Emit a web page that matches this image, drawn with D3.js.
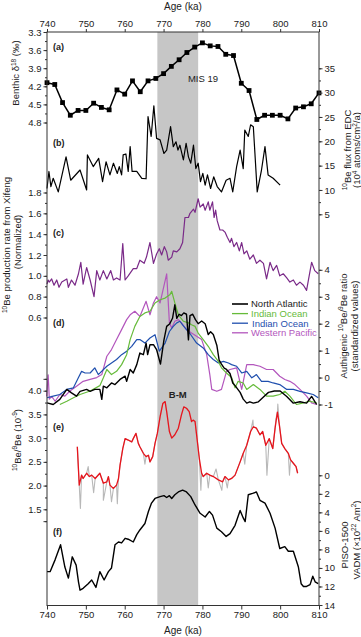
<!DOCTYPE html>
<html>
<head>
<meta charset="utf-8">
<script src="https://cdn.jsdelivr.net/npm/d3@7"></script>
<style>
  body { margin: 0; background: #fff; }
  text { font-family: "Liberation Sans", Arial, sans-serif; fill: #222; }
</style>
</head>
<body>
<div id="chart"></div>
<script>
/* DATA */
const ageTicks = [740, 750, 760, 770, 780, 790, 800, 810];
const mis19Band = [768.4, 778.9];

// (a) benthic d18O
const benthicAge = [740, 742, 744, 746, 748, 750, 752, 754, 756, 758, 760, 762, 764, 766, 768, 770, 772, 774,
  776, 778, 780, 782, 784, 786, 788, 790, 792, 794, 796, 798, 800, 802, 804, 806, 808, 810];
const benthicD18O = [4.14, 4.17, 4.47, 4.68, 4.60, 4.60, 4.48, 4.55, 4.59, 4.26, 4.33, 4.11, 4.29, 4.11, 4.07, 3.99, 3.87, 3.76,
  3.64, 3.55, 3.48, 3.53, 3.54, 3.67, 3.69, 4.15, 4.27, 4.75, 4.68, 4.68, 4.68, 4.74, 4.56, 4.54, 4.49, 4.31];
const benthicTicks = [3.3, 3.6, 3.9, 4.2, 4.5, 4.8];

// (b) 10Be flux EDC
const edcAge = [740, 740.5, 741.0, 741.6, 742.9, 744.9, 746.1, 748.5, 750.2, 750.4, 751.9, 753.3, 754.3, 755.2, 756.2, 757.1,
  758.1, 758.6, 759.2, 759.6, 760.3, 760.9, 761.4, 761.9, 763.1, 764.4, 765.5, 766.0, 766.8, 767.5, 768.2, 769.1, 770.1,
  770.8, 771.8, 772.5, 773.2, 773.7, 774.2, 775.1, 775.8, 776.4, 777.0, 777.7, 778.3, 778.9, 779.5, 780.1, 780.7, 781.3,
  782.1, 782.9, 783.8, 784.9, 786.1, 787.1, 787.8, 788.8, 789.7, 790.5, 790.9, 791.8, 792.4, 793.1, 794.1, 795.2, 796.1,
  796.9, 798.2, 800.0];
const edcFlux = [10.3, 13.8, 10.7, 12.4, 9.6, 16.8, 12.0, 14.1, 10.0, 17.2, 14.8, 16.5, 11.7, 15.8, 13.1, 15.5,
  13.4, 14.8, 13.1, 17.2, 17.4, 13.8, 18.9, 13.8, 13.8, 12.4, 12.3, 25.1, 21.0, 27.3, 20.6, 20.3, 17.5,
  18.2, 23.0, 18.9, 19.9, 18.2, 19.2, 16.2, 19.6, 16.8, 15.5, 19.2, 14.4, 15.5, 11.7, 13.4, 11.0, 13.1,
  10.3, 12.7, 10.7, 9.6, 12.0, 12.4, 9.6, 14.8, 18.2, 14.4, 22.3, 21.0, 23.4, 23.0, 9.6, 14.1, 18.9,
  13.1, 12.4, 11.0];
const fluxTicks = [5, 10, 15, 20, 25, 30, 35];

// (c) Xifeng 10Be production rate
const xifengAge = [740.0, 740.3, 740.6, 741.2, 741.8, 742.5, 743.1, 743.8, 745.1, 745.5,
  746.3, 747.2, 748.1, 748.7, 749.3, 750.2, 751.1, 752.1, 752.8, 753.6,
  754.5, 755.4, 756.4, 757.1, 757.9, 758.8, 759.5, 760.1, 760.9, 762.2,
  763.1, 763.9, 765.0, 765.6, 766.5, 767.4, 768.2, 768.9, 769.5, 770.2,
  770.8, 771.2, 772.1, 772.5, 773.4, 774.2, 774.9, 775.5, 776.4, 776.8,
  777.7, 778.1, 778.9, 779.4, 780.2, 780.7, 781.5, 781.9, 782.6, 783.0,
  783.4, 783.8, 784.5, 785.2, 785.8, 786.4, 787.1, 787.5, 788.1, 788.8,
  789.5, 790.1, 790.7, 791.4, 792.2, 793.1, 793.9, 794.8, 795.7, 796.5,
  797.4, 798.2, 799.1, 799.9, 800.8, 801.7, 802.5, 803.4, 804.2, 805.1,
  806.0, 806.8, 808.1, 808.9, 809.8];
const xifengRate = [0.92, 0.96, 0.94, 0.97, 0.91, 0.96, 0.89, 0.94, 0.97, 0.89,
  0.96, 0.91, 1.02, 1.13, 0.92, 1.08, 0.96, 0.80, 1.05, 0.96,
  1.05, 0.97, 1.05, 0.96, 0.98, 0.96, 1.31, 0.96, 1.00, 1.07,
  1.07, 1.15, 1.12, 1.18, 1.32, 1.12, 1.21, 1.26, 1.20, 1.28,
  1.23, 1.15, 1.18, 1.24, 1.23, 1.26, 1.32, 1.56, 1.56, 1.60,
  1.64, 1.61, 1.74, 1.66, 1.69, 1.63, 1.71, 1.63, 1.71, 1.56,
  1.63, 1.53, 1.44, 1.44, 1.42, 1.37, 1.32, 1.36, 1.28, 1.32,
  1.24, 1.32, 1.21, 1.24, 1.16, 1.20, 1.12, 1.15, 1.12, 0.97,
  1.13, 1.05, 1.10, 1.00, 1.02, 0.98, 0.94, 0.96, 0.91, 0.94,
  0.91, 0.86, 1.13, 1.05, 1.02];
const xifengTicks = [0.6, 0.8, 1.0, 1.2, 1.4, 1.6, 1.8];

// (d) authigenic 10Be/9Be, standardized
const naAge = [740.0, 741.6, 743.3, 745.1, 746.3, 747.6, 748.5, 750.2, 751.1, 752.3, 753.6, 754.1, 754.5, 755.4,
  756.6, 757.5, 758.8, 760.1, 760.5, 761.4, 762.2, 763.1, 763.9, 764.8, 765.5, 765.9, 766.5, 767.4, 768.2,
  769.2, 770.1, 770.8, 771.6, 772.3, 772.9, 773.4, 774.0, 774.6, 775.2, 775.9, 776.4, 776.8, 777.5, 778.2,
  778.9, 779.8, 780.7, 781.5, 782.1, 782.8, 783.7, 784.3, 784.9, 785.6, 786.2, 787.1, 787.8, 788.4, 789.7,
  790.5, 791.4, 792.2, 793.1, 794.4, 795.5, 797.0, 798.5, 800.0, 801.7, 803.4, 805.1, 806.8, 808.1, 809.4];
const naVal = [-0.94, -1.0, -0.81, -0.44, -0.57, -0.69, -0.51, -0.44, -0.51, -0.44, -0.44, -0.81, -0.32, -0.38,
  -0.20, -0.26, -0.07, 0.05, -0.14, 0.30, 0.17, 0.48, 0.91, 0.85, 1.28, 0.85, 1.22, 1.22, 1.04,
  0.50, 1.40, 1.90, 2.00, 2.20, 2.70, 2.20, 2.35, 2.30, 2.40, 2.35, 1.40, 2.30, 2.35, 2.15,
  2.00, 2.10, 2.00, 1.60, 1.70, 1.60, 1.20, 0.65, 0.50, 0.35, 0.30, 0.15, -0.20, -0.30, -0.55,
  -0.80, -0.95, -0.90, -0.95, -0.90, -0.75, -0.55, -0.50, -0.50, -0.70, -0.95, -0.90, -0.95, -0.70, -1.00];

const ioGreenAge = [743.3, 745.1, 746.8, 748.5, 751.1, 753.6, 754.5, 755.4, 756.6, 757.9, 759.2, 760.5, 761.4, 762.6,
  763.9, 765.2, 766.5, 767.8, 769.1, 770.4, 771.6, 772.1, 772.9, 773.8, 775.1, 776.4, 777.2, 778.1, 778.9,
  780.2, 781.5, 782.8, 784.1, 784.9, 786.2, 787.5, 788.4, 789.2, 790.5, 791.4, 793.1, 794.8, 796.5, 798.2,
  799.9, 801.2, 802.5, 804.2, 806.0, 807.7, 809.4];
const ioGreenVal = [-1.0, -0.88, -0.75, -0.63, -0.50, -0.30, -0.01, 0.30, 0.11, 0.23, 0.48, 0.85, 1.41, 1.90,
  2.27, 2.40, 2.46, 2.77, 2.89, 2.95, 3.07, 3.20, 2.77, 2.33, 2.09, 2.03, 1.96, 1.90, 1.65,
  1.41, 1.16, 0.85, 0.60, 0.36, 0.17, 0.0, -0.38, -0.14, -0.20, -0.44, -0.26, -0.44, -0.69, -0.69,
  -0.63, -0.51, -0.69, -1.0, -0.94, -0.88, -0.94];

const ioBlueAge = [740.0, 741.6, 743.3, 745.1, 746.8, 748.1, 748.9, 749.8, 751.1, 752.3, 753.2, 755.4, 756.6, 757.9,
  759.2, 760.5, 761.8, 763.1, 763.9, 765.2, 766.5, 767.8, 768.9, 770.4, 771.5, 772.5, 773.4, 774.2, 774.9,
  775.9, 777.0, 778.5, 780.2, 781.5, 782.8, 784.1, 785.4, 786.7, 787.5, 788.8, 790.1, 791.4, 792.7, 793.9,
  795.2, 796.9, 798.2, 799.9, 801.7, 803.4, 805.1, 806.8, 808.5, 809.8];
const ioBlueVal = [-0.75, -0.69, -0.63, -0.44, -0.38, 0.0, 0.23, 0.17, 0.17, 0.36, 0.11, 0.42, 0.54, 0.67,
  0.85, 0.98, 1.16, 1.41, 1.41, 1.28, 1.47, 1.59, 0.98, 1.28, 1.71, 1.90, 2.03, 2.09, 1.96,
  1.78, 1.59, 1.28, 1.10, 0.85, 0.67, 0.54, 0.60, 0.54, 0.48, 0.42, 0.17, 0.23, -0.01, 0.11,
  -0.14, -0.14, -0.20, -0.26, -0.44, -0.44, -0.51, -0.57, -0.63, -0.75];

const wpAge = [739.9, 740.3, 740.6, 741.2, 742.1, 743.3, 744.6, 745.9, 747.6, 749.3, 751.1, 752.8, 754.1, 755.4,
  756.6, 757.9, 759.2, 760.5, 761.4, 762.6, 763.9, 765.5, 766.5, 767.4, 768.2, 769.1, 770.8, 771.5, 772.1,
  772.9, 773.8, 774.6, 775.9, 777.2, 778.5, 779.8, 781.1, 781.9, 782.4, 783.7, 784.9, 786.2, 787.1, 788.8,
  790.1, 791.4, 793.1, 794.8, 796.5, 798.2, 799.9, 801.2, 802.5, 803.8, 805.1, 806.8, 808.1, 809.4];
const wpVal = [-0.7, 0.1, -0.8, -0.7, -0.88, -0.63, -0.69, -0.5, -0.32, -0.14, -0.07, 0.0, 0.11, 0.79,
  1.04, 1.41, 1.78, 2.15, 2.33, 2.46, 2.27, 2.83, 2.33, 2.77, 3.0, 2.77, 3.85, 2.03, 1.84,
  2.09, 2.15, 2.03, 1.78, 1.65, 1.53, 1.41, 0.85, 0.11, -0.44, -0.51, -0.44, 0.23, 0.30, 0.36,
  -0.44, 0.48, 0.48, 0.42, 0.30, 0.30, 0.05, -0.07, -0.14, -0.26, -0.44, -0.69, -0.94, -1.0];
const authTicks = [-1, 0, 1, 2, 3, 4];
const authSeries = ['North Atlantic', 'Indian Ocean', 'Indian Ocean', 'Western Pacific'];

// (e) 10Be/9Be (10^-9)
const beAge = [747.8, 748.3, 748.9, 749.3, 750.2, 750.9, 751.5, 752.4, 753.6, 754.5, 755.4, 755.8, 756.2, 757.1,
  757.9, 758.4, 758.8, 759.5, 760.1, 760.9, 761.8, 762.2, 762.9, 763.5, 763.9, 764.8, 765.5, 766.1, 766.5,
  767.2, 767.8, 768.4, 769.1, 769.8, 770.4, 770.8, 771.5, 772.1, 772.9, 773.8, 774.6, 775.2, 775.9, 776.6,
  777.2, 777.6, 778.1, 778.5, 779.2, 779.8, 780.2, 781.1, 781.9, 782.8, 784.1, 785.2, 785.8, 786.7, 787.5,
  788.4, 789.7, 790.5, 791.4, 792.4, 793.1, 793.9, 794.8, 795.5, 796.3, 797.2, 798.1, 798.7, 799.3, 799.8,
  800.4, 801.2, 802.1, 802.7, 803.4, 804.1, 804.5];
const beRatio = [2.82, 2.01, 2.22, 2.15, 2.26, 2.19, 2.22, 2.15, 2.26, 2.05, 2.08, 2.19, 2.01, 1.94,
  2.01, 2.15, 2.43, 2.78, 2.99, 2.96, 2.92, 2.99, 3.10, 2.89, 2.82, 2.68, 2.61, 2.64, 2.50,
  2.61, 2.89, 3.10, 3.45, 3.73, 3.77, 3.56, 3.14, 3.00, 3.07, 3.21, 3.49, 3.66, 3.63, 3.56,
  3.35, 3.38, 3.35, 3.07, 2.57, 2.26, 2.19, 2.26, 2.22, 2.19, 2.12, 2.08, 2.19, 2.12, 2.15,
  2.22, 2.50, 2.68, 2.85, 3.14, 3.24, 3.21, 3.07, 3.14, 2.85, 2.99, 2.78, 3.21, 3.55, 3.28,
  2.89, 2.78, 2.68, 2.54, 2.47, 2.40, 2.26];
// grey raw measurements that stick out of the smoothed red curve
const beRawAge = [748.6, 750.6, 752.0, 754.5, 756.6, 758.1, 765.2, 779.6, 781.5, 783.5, 785.0, 786.4, 790.9,
  793.0, 796.6, 798.9, 799.4, 802.4];
const beRawRatio = [1.52, 2.40, 1.85, 1.69, 1.66, 1.62, 2.45, 1.90, 1.95, 2.35, 1.90, 1.95, 2.45,
  3.38, 2.22, 3.40, 3.72, 2.22];
const beTicks = [1.5, 2.0, 2.5, 3.0, 3.5, 4.0];

// (f) PISO-1500 VADM
const pisoAge = [740.0, 740.8, 742.1, 743.5, 744.6, 745.5, 746.5, 747.5, 748.1, 748.5, 749.3, 750.6, 751.5, 752.6,
  753.6, 754.7, 755.8, 756.6, 757.5, 758.4, 759.2, 760.1, 760.9, 762.2, 763.1, 763.9, 765.2, 766.1, 766.9,
  767.8, 769.1, 770.1, 770.8, 771.5, 772.1, 772.9, 773.8, 774.9, 775.9, 777.0, 778.1, 779.4, 780.7, 781.8,
  782.6, 783.7, 784.9, 786.1, 787.1, 788.4, 789.7, 790.5, 791.0, 791.8, 792.9, 793.9, 794.8, 796.1, 797.4,
  798.7, 799.9, 801.2, 802.1, 803.4, 804.7, 805.4, 806.0, 806.8, 807.7, 808.4, 809.0, 809.8];
const pisoVADM = [10.4, 10.4, 9.1, 7.5, 9.9, 11.1, 8.8, 9.7, 11.5, 12.4, 12.2, 11.7, 11.3, 12.1,
  10.4, 11.3, 10.4, 10.0, 7.5, 7.2, 7.3, 6.8, 6.9, 7.2, 6.4, 5.9, 5.2, 3.9, 3.0,
  2.5, 2.3, 2.2, 2.4, 2.2, 2.5, 2.1, 1.8, 1.6, 1.8, 2.3, 3.2, 4.1, 4.5, 3.9,
  4.3, 5.7, 6.1, 6.6, 6.3, 5.4, 3.8, 4.6, 5.0, 2.1, 1.95, 1.8, 2.7, 3.0, 4.1,
  5.7, 7.9, 7.7, 8.2, 8.2, 9.9, 11.7, 12.0, 12.0, 11.8, 10.9, 11.5, 11.7];
const vadmTicks = [0, 2, 4, 6, 8, 10, 12, 14];

/* LAYOUT */
const width = 361, height = 637;
const plotLeft = 47, plotRight = 319, plotTop = 32, plotBottom = 605.5;

const svg = d3.select('#chart')
  .append('svg')
  .attr('width', width)
  .attr('height', height);

const x = d3.scaleLinear().domain([740, 810]).range([plotLeft, plotRight]);
const yA = d3.scaleLinear().domain([3.3, 4.8]).range([32, 122.5]);
const yB = d3.scaleLinear().domain([5, 35]).range([214.3, 68.3]);
const yC = d3.scaleLinear().domain([0.6, 1.8]).range([317.5, 192.5]);
const yD = d3.scaleLinear().domain([-1, 4]).range([404.5, 269.8]);
const yE = d3.scaleLinear().domain([1.5, 4.0]).range([509.3, 390.7]);
const yF = d3.scaleLinear().domain([0, 14]).range([475.3, 605]);

// MIS 19 band
svg.append('rect')
  .attr('x', x(mis19Band[0]))
  .attr('y', plotTop)
  .attr('width', x(mis19Band[1]) - x(mis19Band[0]))
  .attr('height', plotBottom - plotTop)
  .attr('fill', '#c6c6c6');

// draw a series
function drawLine(ages, vals, y, color, w) {
  const line = d3.line().x(d => x(d[0])).y(d => y(d[1]));
  return svg.append('path')
    .datum(d3.zip(ages, vals))
    .attr('d', line)
    .attr('fill', 'none')
    .attr('stroke', color)
    .attr('stroke-width', w)
    .attr('stroke-linejoin', 'round');
}

// (a)
drawLine(benthicAge, benthicD18O, yA, '#000', 1.5);
svg.selectAll('.sq')
  .data(d3.zip(benthicAge, benthicD18O))
  .enter()
  .append('rect')
  .attr('class', 'sq')
  .attr('x', d => x(d[0]) - 2.4)
  .attr('y', d => yA(d[1]) - 2.4)
  .attr('width', 4.8)
  .attr('height', 4.8)
  .attr('fill', '#000');

// (b)
drawLine(edcAge, edcFlux, yB, '#000', 1.2);

// (c)
drawLine(xifengAge, xifengRate, yC, '#7a2a88', 1.2);

// (d)
const authColors = ['#000', '#66bb3a', '#1f4fae', '#b356bd'];
drawLine(wpAge, wpVal, yD, authColors[3], 1.2);
drawLine(ioBlueAge, ioBlueVal, yD, authColors[2], 1.2);
drawLine(ioGreenAge, ioGreenVal, yD, authColors[1], 1.2);
drawLine(naAge, naVal, yD, authColors[0], 1.4);

// (e) grey raw values under the red curve
const beRaw = d3.zip(beAge, beRatio).concat(d3.zip(beRawAge, beRawRatio)).sort((a, b) => a[0] - b[0]);
drawLine(beRaw.map(d => d[0]), beRaw.map(d => d[1]), yE, '#b8b8b8', 1.1);
drawLine(beAge, beRatio, yE, '#e8141c', 1.3);

// (f)
drawLine(pisoAge, pisoVADM, yF, '#000', 1.4);

/* AXES */
function tidy(g) {
  g.select('.domain').remove();
  g.selectAll('line').attr('stroke', '#333');
  g.selectAll('text').style('font-size', '9.5px').attr('fill', '#222');
}

function minor(ticks, step) {
  return d3.range(ticks[0], ticks[ticks.length - 1] + step / 2, step);
}

svg.append('g').attr('transform', `translate(0,${plotTop})`)
  .call(d3.axisTop(x).tickValues(ageTicks).tickSize(3).tickPadding(2).tickFormat(d3.format('d')))
  .call(tidy);
svg.append('g').attr('transform', `translate(0,${plotBottom})`)
  .call(d3.axisBottom(x).tickValues(ageTicks).tickSize(4).tickPadding(2).tickFormat(d3.format('d')))
  .call(tidy);

function leftAxis(y, ticks, step, fmt) {
  svg.append('g').attr('transform', `translate(${plotLeft},0)`)
    .call(d3.axisLeft(y).tickValues(minor(ticks, step)).tickSize(2).tickFormat(''))
    .call(tidy);
  svg.append('g').attr('transform', `translate(${plotLeft},0)`)
    .call(d3.axisLeft(y).tickValues(ticks).tickSize(3.5).tickPadding(2).tickFormat(fmt))
    .call(tidy);
}

function rightAxis(y, ticks, step, fmt) {
  svg.append('g').attr('transform', `translate(${plotRight},0)`)
    .call(d3.axisRight(y).tickValues(minor(ticks, step)).tickSize(2).tickFormat(''))
    .call(tidy);
  svg.append('g').attr('transform', `translate(${plotRight},0)`)
    .call(d3.axisRight(y).tickValues(ticks).tickSize(3.5).tickPadding(2).tickFormat(fmt))
    .call(tidy);
}

leftAxis(yA, benthicTicks, 0.15, d3.format('.1f'));
leftAxis(yC, xifengTicks, 0.1, d3.format('.1f'));
leftAxis(yE, [1.25].concat(beTicks, [4.25]), 0.25, d => (beTicks.includes(d) ? d.toFixed(1) : ''));
rightAxis(yB, fluxTicks, 2.5, d => String(d));
rightAxis(yD, authTicks, 0.5, d => String(d));
rightAxis(yF, vadmTicks, 1, d => String(d));

// frame
svg.append('rect')
  .attr('x', plotLeft).attr('y', plotTop)
  .attr('width', plotRight - plotLeft).attr('height', plotBottom - plotTop)
  .attr('fill', 'none').attr('stroke', '#333').attr('stroke-width', 1);

/* TEXT */
function label(tx, ty, parts, opts = {}) {
  const t = svg.append('text')
    .attr('transform', `translate(${tx},${ty})` + (opts.rotate ? ' rotate(-90)' : ''))
    .attr('text-anchor', opts.anchor || 'middle')
    .style('font-size', (opts.size || 9.5) + 'px')
    .style('font-weight', opts.bold ? 'bold' : 'normal');
  if (opts.color) t.style('fill', opts.color);
  let up = false;
  parts.forEach(p => {
    const s = t.append('tspan');
    if (typeof p === 'string') {
      if (up) s.attr('dy', 3.5);
      up = false;
      s.text(p);
    } else {
      if (!up) s.attr('dy', -3.5);
      up = true;
      s.style('font-size', '6.5px').text(p.sup);
    }
  });
  return t;
}

label((plotLeft + plotRight) / 2, 10, ['Age (ka)'], { size: 10 });
label((plotLeft + plotRight) / 2, 634, ['Age (ka)'], { size: 10 });

label(19, 73, ['Benthic δ', { sup: '18' }, ' (‰)'], { rotate: true });
label(10, 245, [{ sup: '10' }, 'Be production rate from Xifeng'], { rotate: true });
label(21, 242, ['(Normalized)'], { rotate: true });
label(20.5, 440, [{ sup: '10' }, 'Be/', { sup: '9' }, 'Be (10', { sup: '-9' }, ')'], { rotate: true });

label(350.5, 150, [{ sup: '10' }, 'Be flux from EDC'], { rotate: true });
label(360, 150, ['(10', { sup: '4' }, ' atoms/cm', { sup: '2' }, '/a)'], { rotate: true });
label(346.5, 326, ['Authigenic ', { sup: '10' }, 'Be/', { sup: '9' }, 'Be ratio'], { rotate: true });
label(358, 326, ['(standardized values)'], { rotate: true });
label(348, 545, ['PISO-1500'], { rotate: true });
label(359.5, 540, ['VADM (×10', { sup: '22' }, ' Am', { sup: '2' }, ')'], { rotate: true });

// panel letters
const panelLetters = ['(a)', '(b)', '(c)', '(d)', '(e)', '(f)'];
const panelY = [50, 146, 236, 326, 430, 535];
panelLetters.forEach((p, i) => label(53, panelY[i], [p], { anchor: 'start', bold: true, size: 9 }));

label(203, 82, ['MIS 19'], { size: 9.5 });
label(x((mis19Band[0] + mis19Band[1]) / 2), 398, ['B-M'], { bold: true, size: 9.5 });

// legend
const legend = svg.selectAll('.legend')
  .data(authSeries)
  .enter()
  .append('g')
  .attr('class', 'legend')
  .attr('transform', (d, i) => `translate(232, ${304 + i * 9.6})`);

legend.append('line')
  .attr('x1', 0).attr('x2', 16)
  .attr('stroke', (d, i) => authColors[i])
  .attr('stroke-width', (d, i) => (i === 0 ? 1.6 : 1.3));

legend.append('text')
  .attr('x', (d, i) => (i === 2 ? 20 : 19))
  .attr('y', 3.3)
  .style('font-size', '9.5px')
  .style('fill', (d, i) => (i === 0 ? '#222' : authColors[i]))
  .text(d => d);
</script>
</body>
</html>
